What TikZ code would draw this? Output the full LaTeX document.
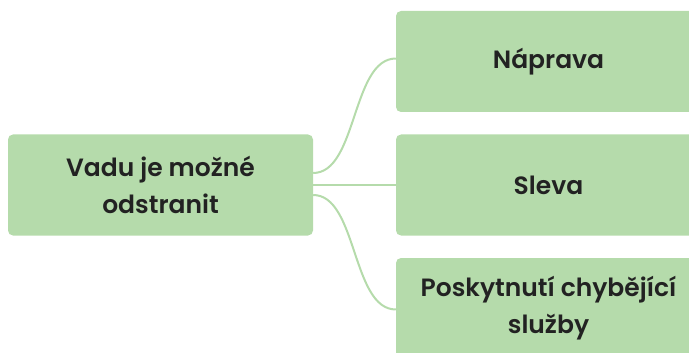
\documentclass[tikz,border=0pt]{standalone}
\usepackage{fontspec}
\setmainfont{Poppins}[BoldFont={Poppins SemiBold}]
\definecolor{leaf}{HTML}{B5DBAB}
\definecolor{ink}{HTML}{222222}

\begin{document}
\begin{tikzpicture}[x=1pt,y=-1pt,
  box/.style={fill=leaf, rounded corners=5pt, minimum width=305pt, minimum height=101pt,
    inner sep=0pt, align=center, text=ink, font=\fontsize{25}{37}\selectfont\bfseries},
  link/.style={draw=leaf, line width=2pt}]
\useasboundingbox (0,0) rectangle (689,353);
\clip (0,0) rectangle (689,353);
\node [box] (root) at (160.5,185) {Vadu je možné\\odstranit};
\node [box] (fix) at (548.5,61.5) {Náprava};
\node [box] (cut) at (548.5,185) {Sleva};
\node [box] (add) at (548.5,308.5) {Poskytnutí chybějící\\služby};
\draw [link] ([yshift=12pt]root.east) to [out=0,in=180,looseness=0.8] ([yshift=3pt]fix.west);
\draw [link] (root.east) -- (cut.west);
\draw [link] ([yshift=-10pt]root.east) to [out=0,in=180,looseness=0.8] ([yshift=-1pt]add.west);
\end{tikzpicture}
\end{document}
